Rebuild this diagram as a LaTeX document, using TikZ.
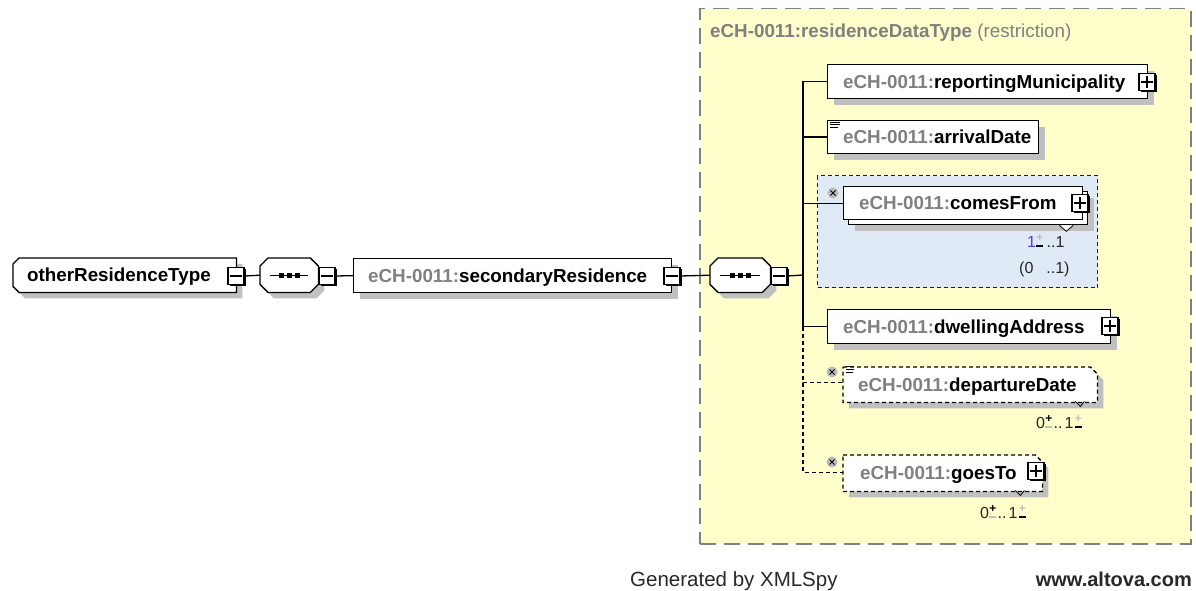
\documentclass[tikz,border=0pt]{standalone}
\usepackage{fontspec}
\setmainfont{Liberation Sans}
\usetikzlibrary{shadows}

\definecolor{panelfill}{RGB}{255,255,204}
\definecolor{panelline}{RGB}{128,128,128}
\definecolor{shadowc}{RGB}{192,192,192}
\definecolor{pfxgray}{RGB}{128,128,128}
\definecolor{grpfill}{RGB}{224,234,247}
\definecolor{grpline}{RGB}{0,0,255}
\definecolor{occblue}{RGB}{80,60,230}
\definecolor{signgray}{RGB}{190,190,190}
\definecolor{icongray}{RGB}{185,185,185}
\definecolor{foot}{RGB}{40,40,40}

% namespace prefix of the element names
\newcommand\pfx{\textcolor{pfxgray}{eCH-0011:}}
% occurrence sign: small plus over a bar, each with its own colour
\newcommand\occsign[2]{\makebox[7.5pt][c]{\rlap{\raisebox{5.5pt}{\textcolor{#1}{\fontsize{12}{12}\selectfont\bfseries +}}}\raisebox{0.3pt}{\textcolor{#2}{\rule{6.8pt}{1.4pt}}}}}

% outlines drawn round invisible nodes
\newcommand\leftcutpath[1]{([shift={(6,0)}]#1.north west) -- (#1.north east) -- (#1.south east) -- ([shift={(6,0)}]#1.south west) -- ([shift={(0,-6)}]#1.south west) -- ([shift={(0,6)}]#1.north west) -- cycle}
\newcommand\octpath[1]{([shift={(8,0)}]#1.north west) -- ([shift={(-8,0)}]#1.north east) -- ([shift={(0,8)}]#1.north east) -- ([shift={(0,-8)}]#1.south east) -- ([shift={(-8,0)}]#1.south east) -- ([shift={(8,0)}]#1.south west) -- ([shift={(0,-8)}]#1.south west) -- ([shift={(0,8)}]#1.north west) -- cycle}
\newcommand\dogearpath[1]{(#1.north west) -- ([shift={(-7,0)}]#1.north east) -- ([shift={(0,7)}]#1.north east) -- (#1.south east) -- (#1.south west) -- cycle}

\begin{document}
\begin{tikzpicture}[x=1pt,y=-1pt,
  boxshadow/.style={drop shadow={shadow xshift=6pt,shadow yshift=-6pt,fill=shadowc,opacity=1}},
  ebox/.style={draw,line width=1.3pt,fill=white,minimum height=34pt,inner sep=0pt,anchor=north west},
  hold/.style={minimum height=34pt,inner sep=0pt,anchor=north west},
  outline/.style={draw,line width=1.3pt,fill=white,boxshadow},
  optline/.style={draw,line width=1.3pt,fill=white,boxshadow,dash pattern=on 4pt off 3pt},
  lbl/.style={anchor=base west,inner sep=0pt,font=\bfseries\fontsize{18.8}{22}\selectfont},
  tog/.style={draw,fill=white,line width=1.2pt,minimum width=16pt,minimum height=17pt,inner sep=0pt,
    drop shadow={shadow xshift=1.8pt,shadow yshift=-1.8pt,fill=black,opacity=1}},
  sign/.style={line width=1.2pt},
  conn/.style={line width=1.3pt},
  optconn/.style={line width=1.3pt,dash pattern=on 4pt off 3pt},
  xicon/.style={circle,fill=icongray,minimum size=11pt,inner sep=0pt},
  occ/.style={anchor=base west,inner sep=0pt,font=\fontsize{16}{18}\selectfont,text=black!85},
]
\useasboundingbox[fill=white] (0,0) rectangle (1196,591);

% ---- restriction panel ----
\node[draw=panelline,fill=panelfill,line width=1.5pt,dash pattern=on 16pt off 8pt,
      minimum width=491pt,minimum height=535pt,anchor=north west,inner sep=0pt] (panel) at (699,8) {};
\node[anchor=base west,inner sep=0pt,font=\fontsize{18.8}{22}\selectfont,text=pfxgray] (title) at (710,38)
  {\textbf{eCH-0011:residenceDataType} (restriction)};

% ---- main row ----
\node[hold,minimum width=223pt] (ort) at (13,258) {};
\path[outline] \leftcutpath{ort};
\node[lbl] (ortT) at ([shift={(14,6.5)}]ort.west) {otherResidenceType};
\node[tog] (ortm) at (236,276) {};
\draw[sign] ([xshift=3pt]ortm.west) -- ([xshift=-3pt]ortm.east);

\node[hold,minimum width=58pt] (seq1) at (260,258) {};
\path[outline] \octpath{seq1};
\draw[conn] ([xshift=10pt]seq1.west) -- ([xshift=-10pt]seq1.east);
\foreach \d in {-8,0,8} \fill ([shift={(\d-2.6,-2.6)}]seq1.center) rectangle ([shift={(\d+2.6,2.6)}]seq1.center);
\node[tog] (seq1m) at (327,276) {};
\draw[sign] ([xshift=3pt]seq1m.west) -- ([xshift=-3pt]seq1m.east);

\node[ebox,boxshadow,minimum width=318pt] (sec) at (353,258) {};
\node[lbl] (secT) at ([shift={(15,6.5)}]sec.west) {\pfx secondaryResidence};
\node[tog] (secm) at (672,276) {};
\draw[sign] ([xshift=3pt]secm.west) -- ([xshift=-3pt]secm.east);

\node[hold,minimum width=60pt] (seq2) at (710,258) {};
\path[outline] \octpath{seq2};
\draw[conn] ([xshift=10pt]seq2.west) -- ([xshift=-10pt]seq2.east);
\foreach \d in {-8,0,8} \fill ([shift={(\d-2.6,-2.6)}]seq2.center) rectangle ([shift={(\d+2.6,2.6)}]seq2.center);
\node[tog] (seq2m) at (779,276) {};
\draw[sign] ([xshift=3pt]seq2m.west) -- ([xshift=-3pt]seq2m.east);

\draw[conn] (ortm.east) -- (seq1.west);
\draw[conn] (seq1m.east) -- (sec.west);
\draw[conn] (secm.east) -- (seq2.west);

% ---- comesFrom group ----
\node[draw=grpline,fill=grpfill,line width=1.3pt,dash pattern=on 4pt off 3pt,
      minimum width=280pt,minimum height=112pt,anchor=north west,inner sep=0pt] (cfgrp) at (817,175) {};

% ---- children ----
\node[ebox,boxshadow,minimum width=320pt] (repmun) at (827,64) {};
\node[lbl] (repmunT) at ([shift={(16,6.5)}]repmun.west) {\pfx reportingMunicipality};
\node[tog] (repmunp) at (1147,82) {};
\draw[sign] ([xshift=3pt]repmunp.west) -- ([xshift=-3pt]repmunp.east);
\draw[sign] ([yshift=-3pt]repmunp.north) -- ([yshift=3pt]repmunp.south);

\node[ebox,boxshadow,minimum width=211pt,minimum height=33pt] (arr) at (827,120) {};
\node[lbl] (arrT) at ([shift={(16,6.5)}]arr.west) {\pfx arrivalDate};
\draw[line width=1pt] ([shift={(3,2.5)}]arr.north west) -- ++(10,0)
  ([shift={(3,5)}]arr.north west) -- ++(10,0) ([shift={(3,7.5)}]arr.north west) -- ++(8,0);

\node[ebox,boxshadow,minimum width=239pt,minimum height=33pt] (cfback) at (848,191) {};
\node[ebox,minimum width=239pt,minimum height=33pt] (cf) at (843,186) {};
\node[lbl] (cfT) at ([shift={(16,6.5)}]cf.west) {\pfx comesFrom};
\node[tog] (cfp) at (1080,203) {};
\draw[sign] ([xshift=3pt]cfp.west) -- ([xshift=-3pt]cfp.east);
\draw[sign] ([yshift=-3pt]cfp.north) -- ([yshift=3pt]cfp.south);
\filldraw[fill=white,line width=0.8pt] ([shift={(-29,0)}]cfback.south east) -- ++(7,6) -- ++(7,-6);
\node[xicon] (cfx) at (833,193) {};
\draw[line width=1pt] ([shift={(-2.5,-2.5)}]cfx.center) -- ([shift={(2.5,2.5)}]cfx.center)
  ([shift={(-2.5,2.5)}]cfx.center) -- ([shift={(2.5,-2.5)}]cfx.center);
\node[occ] (cfocc) at (1027,247) {\textcolor{occblue}{1}\occsign{signgray}{black}\hspace{3pt}..1};
\node[occ] (cfocc2) at (1019,273) {(0\hspace{13pt}..1)};

\node[ebox,boxshadow,minimum width=283pt] (dwell) at (827,309) {};
\node[lbl] (dwellT) at ([shift={(16,6.5)}]dwell.west) {\pfx dwellingAddress};
\node[tog] (dwellp) at (1110,326) {};
\draw[sign] ([xshift=3pt]dwellp.west) -- ([xshift=-3pt]dwellp.east);
\draw[sign] ([yshift=-3pt]dwellp.north) -- ([yshift=3pt]dwellp.south);

\node[hold,minimum width=254pt,minimum height=35pt] (dep) at (843,367) {};
\path[optline] \dogearpath{dep};
\node[lbl] (depT) at ([shift={(15,6.5)}]dep.west) {\pfx departureDate};
\draw[line width=0.8pt] ([shift={(-22,-1)}]dep.south east) -- ++(5,5) -- ++(4,-5);
\node[xicon] (depx) at (832,372) {};
\draw[line width=1pt] ([shift={(-2.5,-2.5)}]depx.center) -- ([shift={(2.5,2.5)}]depx.center)
  ([shift={(-2.5,2.5)}]depx.center) -- ([shift={(2.5,-2.5)}]depx.center);
\draw[line width=1pt] ([shift={(3,-0.5)}]dep.north west) -- ++(8,0)
  ([shift={(3,2.5)}]dep.north west) -- ++(8,0) ([shift={(3,5.5)}]dep.north west) -- ++(7,0);
\node[occ] (depocc) at (1036,428) {0\occsign{black}{signgray}\hspace{1pt}..\hspace{2pt}1\hspace{1pt}\occsign{signgray}{black}};

\node[hold,minimum width=199pt,minimum height=36pt] (goes) at (843,455) {};
\path[optline] \dogearpath{goes};
\node[lbl] (goesT) at ([shift={(17,6.5)}]goes.west) {\pfx goesTo};
\node[tog] (goesp) at (1036,471) {};
\draw[sign] ([xshift=3pt]goesp.west) -- ([xshift=-3pt]goesp.east);
\draw[sign] ([yshift=-3pt]goesp.north) -- ([yshift=3pt]goesp.south);
\draw[line width=0.8pt] ([shift={(-27,-1)}]goes.south east) -- ++(5,5) -- ++(4,-5);
\node[xicon] (goesx) at (832,462) {};
\draw[line width=1pt] ([shift={(-2.5,-2.5)}]goesx.center) -- ([shift={(2.5,2.5)}]goesx.center)
  ([shift={(-2.5,2.5)}]goesx.center) -- ([shift={(2.5,-2.5)}]goesx.center);
\node[occ] (goesocc) at (980,518) {0\occsign{black}{signgray}\hspace{1pt}..\hspace{2pt}1\hspace{1pt}\occsign{signgray}{black}};

% ---- connectors of the sequence ----
\coordinate (tj) at (803,275);
\draw[conn] (seq2m.east) -- (tj);
\draw[conn] (repmun.west) -| (tj);
\draw[conn] (tj) |- (dwell.west);
\draw[conn] (arr.west) -- (arr.west -| tj);
\draw[conn] (cf.west) -- (cf.west -| tj);
\draw[optconn] (dwell.west -| tj) |- ([yshift=2pt]dep.west);
\draw[optconn] ([yshift=2pt]dep.west -| tj) |- ([yshift=1pt]goes.west);

% ---- footer ----
\node[anchor=base west,inner sep=0pt,font=\fontsize{20.5}{24}\selectfont,text=foot] (gen) at (630,586.5) {Generated by XMLSpy};
\node[anchor=base east,inner sep=0pt,font=\bfseries\fontsize{20}{24}\selectfont,text=foot] (url) at (1192,586.5) {www.altova.com};
\end{tikzpicture}
\end{document}
